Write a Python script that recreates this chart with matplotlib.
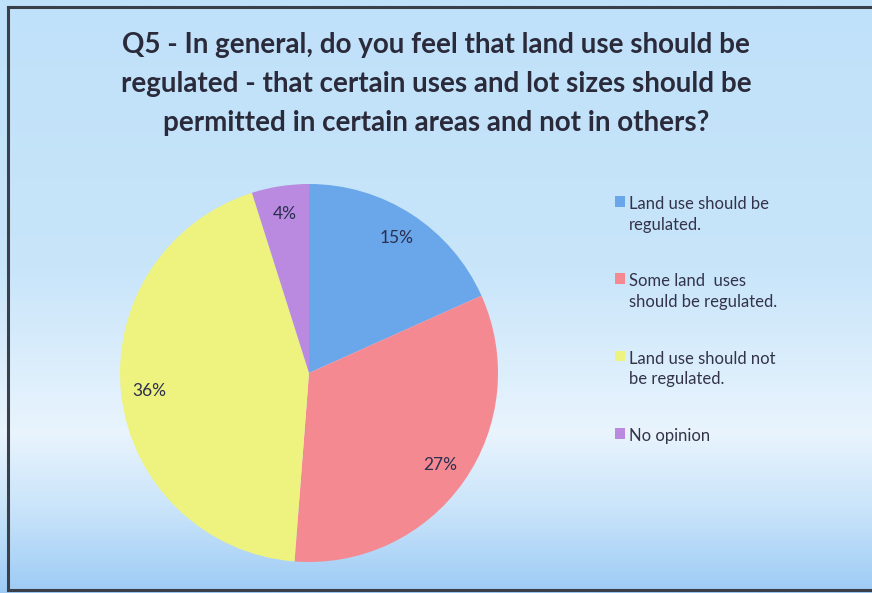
import numpy as np
import matplotlib
matplotlib.use("Agg")
import matplotlib.pyplot as plt
from matplotlib.colors import LinearSegmentedColormap
from matplotlib.lines import Line2D

title = ("Q5 - In general, do you feel that land use should be\n"
         "regulated - that certain uses and lot sizes should be\n"
         "permitted in certain areas and not in others?")
labels = ["Land use should be\nregulated.",
          "Some land  uses\nshould be regulated.",
          "Land use should not\nbe regulated.",
          "No opinion"]
values = [15, 27, 36, 4]
colors = ["#6aa6ea", "#f58992", "#eef27e", "#b98ae0"]

plt.rcParams["font.family"] = ["Lato", "DejaVu Sans"]

W, H = 872, 593
fig = plt.figure(figsize=(W / 100, H / 100), dpi=100)

# slide-style vertical gradient behind everything
bg = fig.add_axes([0, 0, 1, 1], zorder=-10)
grad_cmap = LinearSegmentedColormap.from_list("bg", [
    (0.00, "#bfe1f9"),
    (0.45, "#c8e5fa"),
    (0.73, "#e9f4fd"),
    (0.86, "#c9e4fa"),
    (1.00, "#9ecbf5"),
])
grad = np.linspace(0, 1, 256).reshape(-1, 1)
bg.imshow(grad, aspect="auto", cmap=grad_cmap, extent=[0, 1, 0, 1])
bg.set_xlim(0, 1)
bg.set_ylim(0, 1)
bg.axis("off")

# dark frame on left, top and bottom
fx0, fy_top, fy_bot = 8 / W, 1 - 7 / H, 1 - 590 / H
for xs, ys in [([fx0, fx0], [fy_bot, fy_top]),
               ([fx0, 1.01], [fy_top, fy_top]),
               ([fx0, 1.01], [fy_bot, fy_bot])]:
    bg.add_line(Line2D(xs, ys, color="#3a3f4a", lw=2.2, transform=bg.transAxes))

fig.text(0.5, 1 - 84 / H, title, ha="center", va="center", fontsize=20,
         fontweight="bold", color="#2a2a3a", linespacing=1.6)

# pie, centre ~ (309, 373) px, radius ~ 189 px
cx, cy, r = 309, 373, 189
ax = fig.add_axes([(cx - r) / W, (H - cy - r) / H, 2 * r / W, 2 * r / H])
total = sum(values)
wedges, texts, autotexts = ax.pie(
    values, colors=colors, startangle=90, counterclock=False,
    autopct=lambda p: "{:.0f}%".format(p * total / 100), pctdistance=0.85,
    textprops=dict(fontsize=12.5, color="#2b2f4f"))
ax.set_xlim(-1, 1)
ax.set_ylim(-1, 1)

leg = fig.legend(wedges, labels, loc="upper left",
                 bbox_to_anchor=(600 / W, 1 - 181 / H), frameon=False,
                 fontsize=12, labelcolor="#33334a", handlelength=0.6,
                 handleheight=0.6, handletextpad=0.25, labelspacing=2.45)
for t in leg.get_texts():
    t.set_linespacing(1.35)
# put each square next to the first line of its label
for col in leg._legend_handle_box.get_children():
    for row in col.get_children():
        row.align = "top"

fig.savefig("out.png", dpi=100)
